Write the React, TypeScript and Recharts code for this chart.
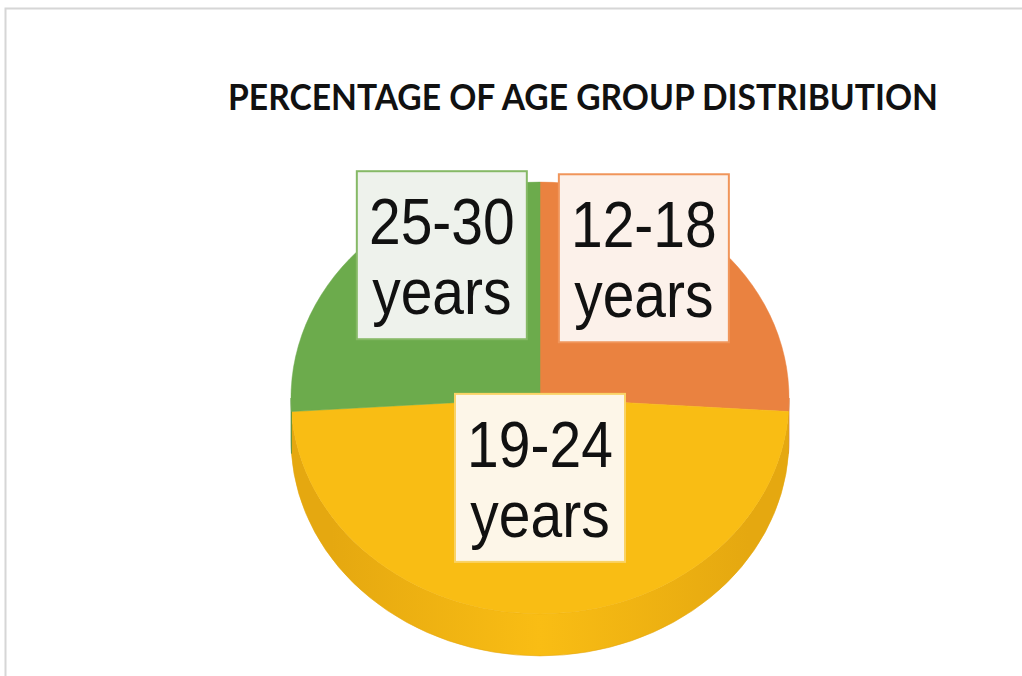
import { PieChart, Pie } from 'recharts';

const AGE_GROUPS = ['12-18 years', '19-24 years', '25-30 years'];
const SHARES = [26, 48, 26];
const COLORS = ['#EA8240', '#F9BD14', '#6CAB4C'];
const SIDE_COLORS = ['#C96A2C', '#E5A810', '#56903A'];
const BOX_FILLS = ['#FCF1EA', '#FDF6E8', '#EEF2EC'];
const BOX_BORDERS = ['#F0955A', '#FAD366', '#86B966'];
const TITLE = 'PERCENTAGE OF AGE GROUP DISTRIBUTION';

const W = 1022;
const H = 676;
const CX = 535;
const CY = 393;
const R = 249;
const TILT = 0.867; // vertical squash of the top face
const DEPTH = 42;
// label placement tweaks (radius fraction, angle nudge) per slice
const LABEL_R = [0.77, 0.37, 0.77];
const LABEL_SHIFT = [14, 0, -16];
const TEXT_STRETCH = 1.15;

const data = AGE_GROUPS.map((name, i) => ({ name, value: SHARES[i] }));

const RAD = Math.PI / 180;
function pt(cx: number, cy: number, r: number, deg: number, dy = 0) {
    return [cx + r * Math.cos(-deg * RAD), cy + r * TILT * Math.sin(-deg * RAD) + dy];
}

function Slice3D(props: any) {
    const { cx, cy, outerRadius: r, startAngle, endAngle, index } = props;
    const ry = r * TILT;
    const lo = Math.min(startAngle, endAngle);
    const hi = Math.max(startAngle, endAngle);
    const sides: string[] = [];
    for (let k = -2; k <= 1; k++) {
        const s = Math.max(lo, -180 + 360 * k);
        const e = Math.min(hi, 360 * k);
        if (e - s <= 0.01) continue;
        const [x1, y1] = pt(cx, cy, r, e);
        const [x2, y2] = pt(cx, cy, r, s);
        const large = e - s > 180 ? 1 : 0;
        sides.push(
            `M${x1},${y1} A${r},${ry} 0 ${large} 1 ${x2},${y2} L${x2},${y2 + DEPTH} ` +
            `A${r},${ry} 0 ${large} 0 ${x1},${y1 + DEPTH} Z`,
        );
    }
    const [sx, sy] = pt(cx, cy, r, startAngle);
    const [ex, ey] = pt(cx, cy, r, endAngle);
    const large = hi - lo > 180 ? 1 : 0;
    const sweep = startAngle > endAngle ? 1 : 0;
    const top = `M${cx},${cy} L${sx},${sy} A${r},${ry} 0 ${large} ${sweep} ${ex},${ey} Z`;
    const gid = `side-${index}`;
    return (
        <g>
            <defs>
                <linearGradient id={gid} x1="0" y1="0" x2="1" y2="0">
                    <stop offset="0%" stopColor={SIDE_COLORS[index]} />
                    <stop offset="8%" stopColor={SIDE_COLORS[index]} />
                    <stop offset="50%" stopColor={COLORS[index]} />
                    <stop offset="92%" stopColor={SIDE_COLORS[index]} />
                </linearGradient>
            </defs>
            {sides.map((d, i) => (
                <path key={i} d={d} fill={`url(#${gid})`} stroke={SIDE_COLORS[index]} strokeWidth={0.6} />
            ))}
            <path d={top} fill={COLORS[index]} stroke={COLORS[index]} strokeWidth={0.5} />
        </g>
    );
}

function BoxLabel(props: any) {
    const { cx, cy, midAngle, outerRadius, index, name } = props;
    const ang = midAngle + LABEL_SHIFT[index];
    const [x, y] = pt(cx, cy, outerRadius * LABEL_R[index], ang);
    const [line1, line2] = String(name).split(' ');
    return (
        <g>
            <rect x={x - 85} y={y - 84} width={170} height={168} fill={BOX_FILLS[index]}
                stroke={BOX_BORDERS[index]} strokeWidth={2} />
            <g transform={`translate(${x},${y}) scale(1,${TEXT_STRETCH})`}>
                <text x={0} y={-11 / TEXT_STRETCH} textAnchor="middle"
                    fontFamily="'Liberation Sans', Arial, sans-serif" fontSize={57} fill="#111">{line1}</text>
                <text x={0} y={59 / TEXT_STRETCH} textAnchor="middle"
                    fontFamily="'Liberation Sans', Arial, sans-serif" fontSize={57} fill="#111">{line2}</text>
            </g>
        </g>
    );
}

export default function App() {
    return (
        <div style={{ position: 'absolute', left: 0, top: 0, width: W, height: H, background: '#fff' }}>
            <svg width={W} height={H} style={{ position: 'absolute', left: 0, top: 0 }}>
                <path d={`M5.5,${H} L5.5,8.5 L${W},8.5`} fill="none" stroke="#d6d6d6" strokeWidth={2} />
                <text x={583} y={110} textAnchor="middle" fontFamily="Lato, 'Open Sans', sans-serif"
                    fontWeight={700} fontSize={37} fill="#111" textLength={710}
                    lengthAdjust="spacingAndGlyphs">{TITLE}</text>
            </svg>
            <div style={{ position: 'absolute', left: 0, top: 0 }}>
                <PieChart width={W} height={H}>
                    <Pie data={data} dataKey="value" nameKey="name" cx={CX} cy={CY} outerRadius={R}
                        startAngle={90} endAngle={-270} isAnimationActive={false} stroke="none"
                        shape={Slice3D} label={BoxLabel} labelLine={false} />
                </PieChart>
            </div>
        </div>
    );
}
